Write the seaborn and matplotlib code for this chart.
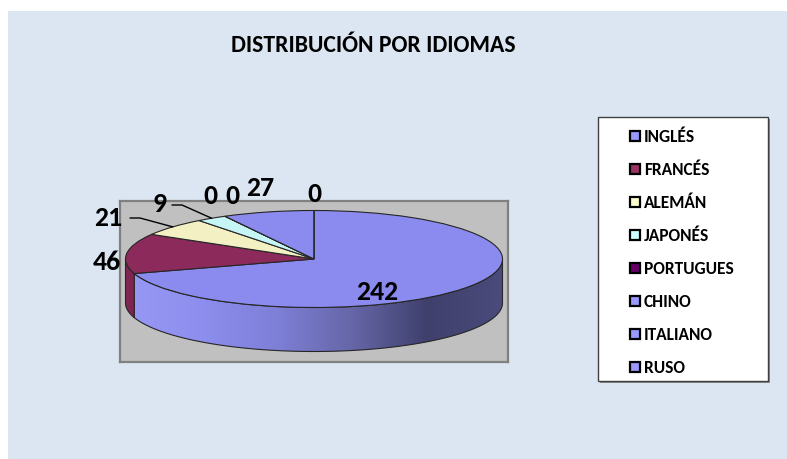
import numpy as np
import matplotlib
matplotlib.use("Agg")
import matplotlib.pyplot as plt
from matplotlib import font_manager
from matplotlib.patches import Rectangle, Polygon
import seaborn as sns

# data
idiomas = ["INGLÉS", "FRANCÉS", "ALEMÁN", "JAPONÉS", "PORTUGUES", "CHINO", "ITALIANO", "RUSO"]
alumnos = [242, 46, 21, 9, 0, 0, 27, 0]

# colours (top face, side face, legend key)
top_colors = ["#8b8bef", "#8c2a5c", "#f3f0c4", "#c6f5f5", "#660066", "#8b8bef", "#8b8bef", "#8b8bef"]
side_colors = ["#8b8bef", "#7e2552", "#d9d6a8", "#a8d8d8", "#550055", "#7777cc", "#7777cc", "#7777cc"]
key_colors = ["#9999ff", "#993366", "#ffffcc", "#ccffff", "#660066", "#9999ff", "#9999ff", "#9999ff"]

sns.set_theme(style="white")


def pick_bold_family(cands):
    # first family that really has a bold face installed
    for fam in cands:
        try:
            path = font_manager.findfont(font_manager.FontProperties(family=fam, weight="bold"),
                                         fallback_to_default=False)
        except Exception:
            continue
        if "bold" in path.lower():
            return fam
    return "DejaVu Sans"


fam = pick_bold_family(["Carlito", "Lato", "Open Sans", "Noto Sans", "Liberation Sans"])
plt.rcParams["font.family"] = [fam, "DejaVu Sans"]

W, H = 787, 459
fig = plt.figure(figsize=(W / 100, H / 100), dpi=100)
fig.patch.set_facecolor("white")
fig.add_artist(Rectangle((8 / W, 0), 1 - 8 / W, 1 - 11 / H, transform=fig.transFigure,
                         facecolor="#dce6f2", edgecolor="none", zorder=-10))

# pie geometry in pixels (center, radii, thickness)
CX, CY, RX, RY, DEPTH = 314, 259, 188.5, 48.5, 44
box_l, box_r, box_t, box_b = 120, 508, 201, 362

ax = fig.add_axes([box_l / W, 1 - box_b / H, (box_r - box_l) / W, (box_b - box_t) / H])


def to_data(px, py):
    return (px - CX) / RX, (CY - py) / RY


depth = DEPTH / RY

wedges, _ = ax.pie(alumnos, colors=top_colors, startangle=90, counterclock=False,
                   frame=True, wedgeprops=dict(edgecolor="#262626", linewidth=0.8))
for w in wedges:
    w.set_zorder(4)

# side of the cylinder: only the front half (angles -180..0) is visible
total = sum(alumnos)
cum = np.concatenate([[0], np.cumsum(alumnos)]) / total
grad_cmap = sns.blend_palette(["#9898f4", "#8d8eee", "#7e7fd6", "#6666a8", "#3f406c", "#4b4b7c"],
                              as_cmap=True)
for i, v in enumerate(alumnos):
    if v == 0:
        continue
    a0 = 90 - 360 * cum[i + 1]
    a1 = 90 - 360 * cum[i]
    for shift in (-360, 0, 360):
        lo = max(a0 + shift, -180)
        hi = min(a1 + shift, 0)
        if hi <= lo:
            continue
        t = np.radians(np.linspace(lo, hi, 80))
        top = np.column_stack([np.cos(t), np.sin(t)])
        bot = np.column_stack([np.cos(t), np.sin(t) - depth])[::-1]
        pts = np.vstack([top, bot])
        if i == 0:
            poly = Polygon(pts, closed=True, facecolor="none", edgecolor="#262626",
                           linewidth=0.8, zorder=3)
            ax.add_patch(poly)
            img = ax.imshow(np.linspace(0, 1, 256).reshape(1, -1), cmap=grad_cmap,
                            extent=[-1, 1, -1 - depth, 0], aspect="auto", zorder=2)
            img.set_clip_path(poly)
        else:
            ax.add_patch(Polygon(pts, closed=True, facecolor=side_colors[i],
                                 edgecolor="#262626", linewidth=0.8, zorder=3))

ax.set_aspect("auto")
ax.set_xlim((box_l - CX) / RX, (box_r - CX) / RX)
ax.set_ylim((CY - box_b) / RY, (CY - box_t) / RY)
ax.set_xticks([])
ax.set_yticks([])
ax.set_facecolor("#c0c0c0")
for s in ax.spines.values():
    s.set_visible(True)
    s.set_color("#808080")
    s.set_linewidth(1.6)

# data labels
label_px = [(377, 292), (107, 262), (108, 218), (160, 204), (210, 196), (232, 196), (260, 188), (314, 194)]
for v, (px, py) in zip(alumnos, label_px):
    x, y = to_data(px, py)
    ax.text(x, y, str(v), ha="center", va="center", fontsize=20, fontweight="bold",
            color="black", clip_on=False, zorder=6)

# leader lines for the small slices (ALEMÁN, JAPONÉS)
leaders = {2: [(130, 218), (140, 218)], 3: [(172, 205), (182, 205)]}
for i, knots in leaders.items():
    mid = np.radians(90 - 360 * (cum[i] + cum[i + 1]) / 2)
    xs = [to_data(*k)[0] for k in knots] + [np.cos(mid)]
    ys = [to_data(*k)[1] for k in knots] + [np.sin(mid)]
    ax.plot(xs, ys, color="black", linewidth=1, clip_on=False, zorder=5)

# title
fig.text(373 / W, 1 - 45 / H, "DISTRIBUCIÓN POR IDIOMAS", ha="center", va="center",
         fontsize=17, fontweight="bold", color="black")

# legend box
lg_l, lg_r, lg_t, lg_b = 598, 768, 117, 381
fig.add_artist(Rectangle(((lg_l + 2) / W, 1 - (lg_b + 2) / H), (lg_r - lg_l) / W, (lg_b - lg_t) / H,
                         transform=fig.transFigure, facecolor="#8a8a8a", edgecolor="none", zorder=1))
fig.add_artist(Rectangle((lg_l / W, 1 - lg_b / H), (lg_r - lg_l) / W, (lg_b - lg_t) / H,
                         transform=fig.transFigure, facecolor="white", edgecolor="#404040",
                         linewidth=1, zorder=2))
for i, (name, c) in enumerate(zip(idiomas, key_colors)):
    yc = 136 + 33 * i
    fig.add_artist(Rectangle((630 / W, 1 - (yc + 5) / H), 10 / W, 10 / H, transform=fig.transFigure,
                             facecolor=c, edgecolor="black", linewidth=1.6, zorder=3))
    fig.text(644 / W, 1 - (yc + 1) / H, name, ha="left", va="center", fontsize=12.5,
             fontweight="bold", color="black", zorder=3)

fig.savefig("out.png", dpi=100)
